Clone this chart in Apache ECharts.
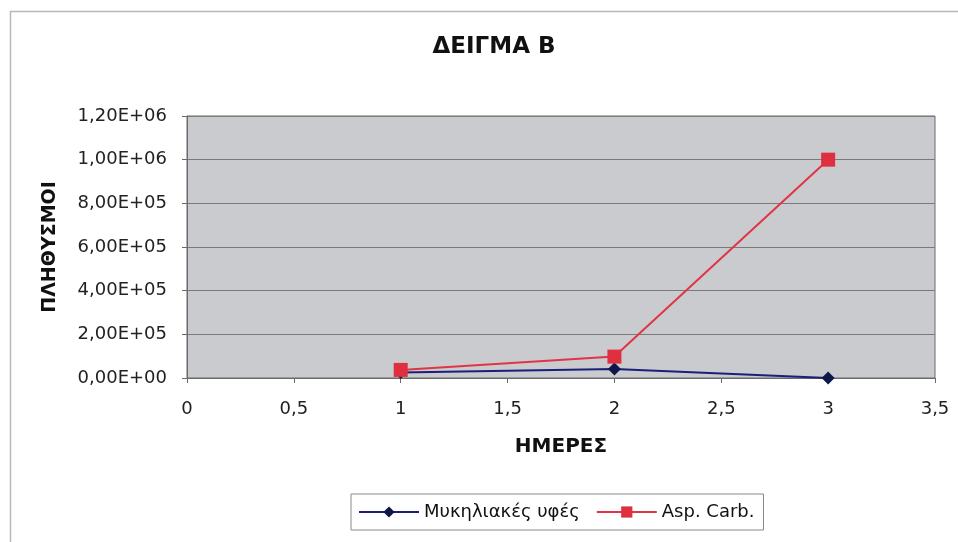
<!DOCTYPE html>
<html>
<head>
<meta charset="utf-8">
<script src="https://cdn.jsdelivr.net/npm/echarts@6/dist/echarts.min.js"></script>
<style>html,body{margin:0;padding:0;background:#fff}#c{width:958px;height:542px}</style>
</head>
<body>
<div id="c"></div>
<script>
var days = [1, 2, 3];
var mycelia = [25000, 41000, 0];
var aspCarb = [37000, 98000, 1000000];
var seriesNames = ['Μυκηλιακές υφές', 'Asp. Carb.'];
var title = 'ΔΕΙΓΜΑ Β';
var xTitle = 'ΗΜΕΡΕΣ';
var yTitle = 'ΠΛΗΘΥΣΜΟΙ';

function sci(v) {
  if (v === 0) return '0,00E+00';
  var e = Math.floor(Math.log10(Math.abs(v)));
  var m = v / Math.pow(10, e);
  var ms = m.toFixed(2).replace('.', ',');
  var es = (e < 0 ? '-' : '+') + (Math.abs(e) < 10 ? '0' : '') + Math.abs(e);
  return ms + 'E' + es;
}
function pairs(xs, ys) { return xs.map(function (x, i) { return [x, ys[i]]; }); }

var font = 'DejaVu Sans, Arial, sans-serif';
var chart = echarts.init(document.getElementById('c'), null, {renderer: 'canvas'});
chart.setOption({
  animation: false,
  backgroundColor: '#ffffff',
  graphic: [{
    type: 'rect', left: 8, top: 9, z: -10,
    shape: {width: 960, height: 540},
    style: {fill: 'none', stroke: '#b8b8b8', lineWidth: 1.5}
  }],
  title: {
    text: title, left: 489, top: 31, textAlign: 'center',
    textStyle: {fontFamily: font, fontSize: 23, fontWeight: 'bold', color: '#111'}
  },
  grid: {left: 187, right: 23, top: 116, bottom: 164, show: true,
    backgroundColor: '#c9cbcf', borderColor: '#6a6a6a', borderWidth: 1},
  xAxis: {
    type: 'value', min: 0, max: 3.5, interval: 0.5,
    name: xTitle, nameLocation: 'middle', nameGap: 59,
    nameTextStyle: {fontFamily: font, fontSize: 20, fontWeight: 'bold', color: '#111'},
    axisLine: {show: true, onZero: false, lineStyle: {color: '#6a6a6a', width: 1}},
    axisTick: {show: true, length: 5, lineStyle: {color: '#6a6a6a'}},
    splitLine: {show: false},
    axisLabel: {fontFamily: font, fontSize: 18, color: '#222', margin: 22,
      formatter: function (v) { return String(v).replace('.', ','); }}
  },
  yAxis: {
    type: 'value', min: 0, max: 1200000, interval: 200000,
    name: yTitle, nameLocation: 'middle', nameGap: 127, nameRotate: 90,
    nameTextStyle: {fontFamily: font, fontSize: 19, fontWeight: 'bold', color: '#111'},
    axisLine: {show: true, lineStyle: {color: '#6a6a6a', width: 1}},
    axisTick: {show: true, length: 5, lineStyle: {color: '#6a6a6a'}},
    splitLine: {show: true, lineStyle: {color: '#7a7a7a', width: 1}},
    axisLabel: {fontFamily: font, fontSize: 18, color: '#222', margin: 20, formatter: sci}
  },
  legend: {
    left: 351, top: 494,
    padding: [9, 9, 9, 7], itemGap: 16, itemWidth: 60, itemHeight: 14,
    borderColor: '#8a8a8a', borderWidth: 1, backgroundColor: '#fff',
    textStyle: {fontFamily: font, fontSize: 18, color: '#111'},
    data: seriesNames
  },
  series: [{
    name: seriesNames[0], type: 'line', data: pairs(days, mycelia),
    symbol: 'diamond', symbolSize: 13,
    lineStyle: {color: '#1c1f78', width: 2},
    itemStyle: {color: '#0d1848'}
  }, {
    name: seriesNames[1], type: 'line', data: pairs(days, aspCarb),
    symbol: 'rect', symbolSize: 14,
    lineStyle: {color: '#e03545', width: 2},
    itemStyle: {color: '#e0303f'}
  }]
});
</script>
</body>
</html>
